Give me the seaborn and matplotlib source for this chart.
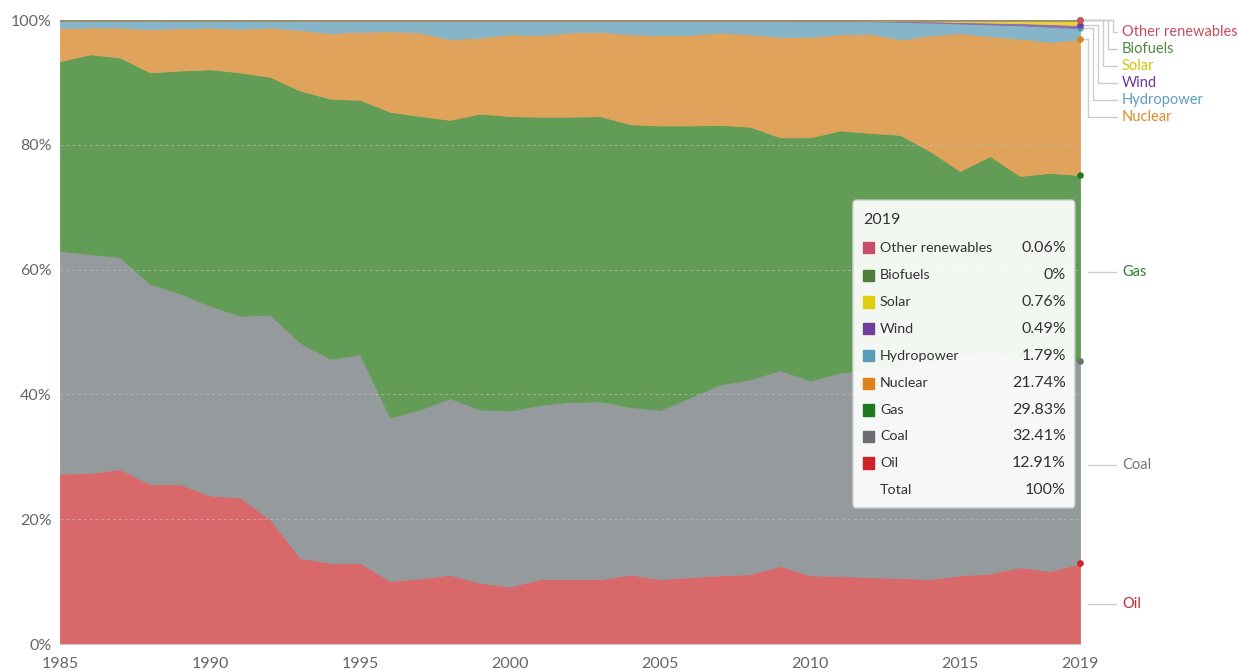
import matplotlib
matplotlib.use("Agg")
import matplotlib.pyplot as plt
import seaborn as sns
import numpy as np
from matplotlib.patches import FancyBboxPatch, Rectangle

# Data: share of primary energy by source (%)
years = list(range(1985, 2020))

oil = [27.3, 27.4, 28.0, 25.6, 25.6, 23.8, 23.5, 20.0, 13.8, 13.0,
       13.0, 10.1, 10.5, 11.1, 9.8, 9.2, 10.4, 10.4, 10.4, 11.1,
       10.4, 10.7, 11.0, 11.2, 12.5, 11.0, 10.9, 10.7, 10.6, 10.4,
       11.0, 11.3, 12.3, 11.7, 12.91]
coal = [35.7, 35.1, 34.0, 32.1, 30.6, 30.4, 29.1, 32.8, 34.5, 32.7,
        33.4, 26.2, 27.1, 28.3, 27.8, 28.2, 27.9, 28.4, 28.5, 26.9,
        27.1, 28.8, 30.6, 31.2, 31.4, 31.2, 32.6, 33.3, 33.9, 34.6,
        35.0, 35.5, 33.2, 33.8, 32.41]
gas = [30.4, 32.0, 32.0, 33.9, 35.7, 37.9, 39.0, 38.1, 40.4, 41.7,
       40.8, 49.0, 47.0, 44.6, 47.4, 47.2, 46.2, 45.7, 45.7, 45.3,
       45.6, 43.6, 41.6, 40.5, 37.3, 39.0, 38.8, 37.9, 37.1, 34.0,
       29.8, 31.4, 29.5, 30.0, 29.83]
nuclear = [5.3, 4.3, 4.8, 6.9, 6.8, 6.7, 7.0, 7.9, 9.7, 10.5,
           10.9, 12.9, 13.4, 12.9, 12.2, 13.1, 13.1, 13.5, 13.5, 14.4,
           14.5, 14.5, 14.8, 14.8, 16.1, 16.1, 15.4, 15.9, 15.3, 18.5,
           22.1, 19.2, 22.0, 21.0, 21.74]
hydropower = [1.24, 1.14, 1.14, 1.44, 1.24, 1.14, 1.34, 1.14, 1.54, 2.04,
              1.84, 1.74, 1.94, 3.04, 2.74, 2.24, 2.34, 1.94, 1.84, 2.24,
              2.34, 2.34, 1.94, 2.24, 2.62, 2.59, 2.09, 2.02, 2.79, 2.09,
              1.54, 1.89, 2.14, 2.42, 1.79]
wind = [0] * 24 + [0.02, 0.05, 0.08, 0.12, 0.15, 0.2, 0.25, 0.3, 0.35, 0.42, 0.49]
solar = [0] * 26 + [0.02, 0.05, 0.1, 0.15, 0.25, 0.35, 0.45, 0.6, 0.76]
biofuels = [0] * 35
other_renewables = [0.06] * 35

names = ["Oil", "Coal", "Gas", "Nuclear", "Hydropower", "Wind", "Solar",
         "Biofuels", "Other renewables"]
series = [oil, coal, gas, nuclear, hydropower, wind, solar, biofuels, other_renewables]
fill_colors = ["#d9686a", "#959a9d", "#639c56", "#e0a35b", "#86b5c9",
               "#8f6bb0", "#e8d23c", "#5f8f4c", "#b8877a"]
solid_colors = ["#cc2228", "#6d6e72", "#1e7a1e", "#dd8420", "#5a9cb8",
                "#6f3f9e", "#e0cc10", "#4e7d3c", "#c8506a"]
label_colors = ["#c8282e", "#777777", "#2f7d2f", "#e08a2a", "#5d9fbf",
                "#6a3a9a", "#d8c400", "#4f8a3c", "#c54d63"]
# label heights (in % units) for the right-side annotations
label_y = [6.4, 28.7, 59.6, 84.5, 87.2, 89.9, 92.6, 95.3, 98.0]
tooltip_vals = ["0.06%", "0%", "0.76%", "0.49%", "1.79%", "21.74%",
                "29.83%", "32.41%", "12.91%"]

sns.set_style("white")
plt.rcParams["font.family"] = ["Lato", "DejaVu Sans"]

fig = plt.figure(figsize=(12.37, 6.71), dpi=100)
ax = fig.add_axes([60 / 1237, 27 / 671, 1020 / 1237, 624 / 671])

polys = ax.stackplot(years, *series, colors=fill_colors, linewidth=0.6)
for p, c in zip(polys, fill_colors):
    p.set_edgecolor(c)

ax.set_xlim(1985, 2019)
ax.set_ylim(0, 100)
ax.set_xticks([1985, 1990, 1995, 2000, 2005, 2010, 2015, 2019])
ax.set_yticks([0, 20, 40, 60, 80, 100])
ax.set_yticklabels([f"{v}%" for v in [0, 20, 40, 60, 80, 100]])
ax.tick_params(axis="x", length=5, color="#cccccc", labelsize=11.5,
               labelcolor="#666666", pad=4)
ax.tick_params(axis="y", length=0, labelsize=11.5, labelcolor="#666666", pad=6)
for v in [20, 40, 60, 80]:
    ax.axhline(v, color="#bbbbbb", lw=0.7, ls=(0, (3, 3)), zorder=3, alpha=0.7)
ax.axhline(100, color="#a08878", lw=0.8, zorder=3)
for s in ["top", "right", "left"]:
    ax.spines[s].set_visible(False)
ax.spines["bottom"].set_color("#cccccc")

# end dots at 2019
tops = np.cumsum([s[-1] for s in series])
for top, c in zip(tops, solid_colors):
    ax.scatter([2019], [top], s=14, color=c, zorder=5, clip_on=False)

# right-side labels with connector lines
line_kw = dict(color="#cccccc", lw=1, clip_on=False)
elbow_x = {3: 2019.27, 4: 2019.43, 5: 2019.6, 6: 2019.77, 7: 2019.93, 8: 2020.1}
for i, name in enumerate(names):
    ly = label_y[i]
    if i in elbow_x:
        xv = elbow_x[i]
        ax.plot([2019.1, xv, xv, 2020.23], [tops[i], tops[i], ly, ly], **line_kw)
    else:
        ax.plot([2019.27, 2020.2], [ly, ly], **line_kw)
    ax.text(2020.4, ly, name, color=label_colors[i], fontsize=10.5,
            va="center", ha="left", clip_on=False)

# tooltip box
box = FancyBboxPatch((2011.43, 21.8), 2018.83 - 2011.43, 71.15 - 21.8,
                     boxstyle="round,pad=0,rounding_size=0.12",
                     facecolor="white", edgecolor="#cccccc", alpha=0.93,
                     lw=1, zorder=10, mutation_aspect=6)
ax.add_patch(box)
ax.text(2011.77, 67.9, "2019", fontsize=11.5, color="#333333", va="center",
        ha="left", zorder=11)
row_y = [63.5, 59.1, 54.8, 50.5, 46.2, 41.8, 37.5, 33.3, 29.0]
for k, idx in enumerate(range(8, -1, -1)):
    y = row_y[k]
    ax.add_patch(Rectangle((2011.75, y - 0.9), 0.38, 1.8,
                           color=solid_colors[idx], zorder=11))
    ax.text(2012.33, y, names[idx], fontsize=10.3, color="#333333",
            va="center", ha="left", zorder=11)
    ax.text(2018.53, y, tooltip_vals[k], fontsize=11.5, color="#333333",
            va="center", ha="right", zorder=11)
ax.text(2012.33, 24.7, "Total", fontsize=10.3, color="#333333",
        va="center", ha="left", zorder=11)
ax.text(2018.53, 24.7, "100%", fontsize=11.5, color="#333333",
        va="center", ha="right", zorder=11)

fig.savefig("out.png", dpi=100)
